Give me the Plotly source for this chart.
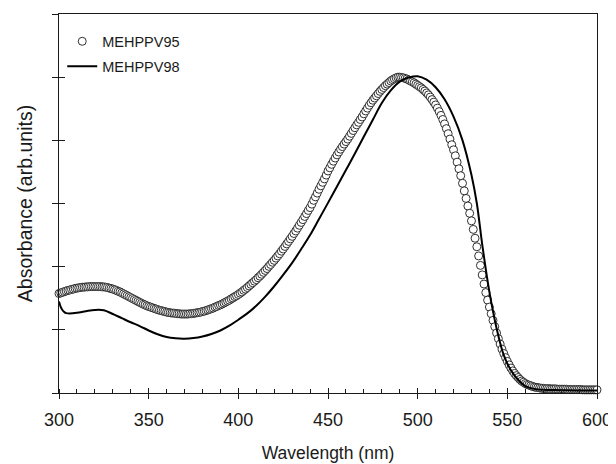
import plotly.graph_objects as go

# MEHPPV95: one reading per nm, 300..600 nm (open circles)
wl_95 = list(range(300, 601))
abs_95 = [
    .315, .317, .319, .321, .323, .325, .326, .328, .329, .331,
    .332, .333, .334, .335, .335, .336, .336, .337, .337, .337,
    .337, .337, .337, .337, .336, .336, .335, .334, .332, .331,
    .329, .327, .325, .322, .320, .317, .314, .311, .308, .305,
    .302, .299, .296, .293, .290, .287, .284, .281, .279, .276,
    .274, .272, .270, .268, .266, .264, .262, .261, .259, .258,
    .256, .255, .254, .253, .253, .252, .251, .251, .250, .250,
    .250, .250, .250, .251, .251, .252, .253, .254, .255, .256,
    .258, .259, .261, .263, .265, .267, .269, .272, .274, .277,
    .279, .282, .285, .288, .291, .294, .298, .301, .305, .308,
    .312, .316, .320, .325, .329, .334, .339, .344, .349, .354,
    .359, .365, .370, .376, .382, .388, .394, .401, .407, .414,
    .420, .427, .434, .441, .449, .456, .464, .472, .480, .488,
    .496, .505, .513, .522, .531, .540, .549, .559, .568, .578,
    .587, .598, .610, .621, .633, .645, .656, .667, .678, .690,
    .703, .713, .724, .734, .744, .754, .763, .772, .780, .788,
    .796, .804, .813, .822, .831, .840, .849, .857, .866, .874,
    .884, .893, .902, .911, .919, .927, .934, .941, .948, .955,
    .961, .967, .973, .978, .983, .988, .992, .995, .998, 1.00,
    1.00, .999, .998, .996, .994, .991, .988, .985, .982, .978,
    .974, .970, .966, .961, .956, .950, .944, .937, .929, .921,
    .912, .902, .891, .879, .866, .852, .837, .821, .804, .786,
    .770, .751, .731, .710, .688, .664, .640, .616, .592, .569,
    .545, .518, .490, .463, .434, .404, .374, .345, .318, .294,
    .272, .251, .230, .210, .190, .172, .155, .139, .125, .112,
    .100, .089, .079, .070, .062, .055, .049, .043, .038, .034,
    .030, .027, .025, .023, .021, .019, .018, .017, .016, .015,
    .015, .014, .014, .014, .013, .013, .013, .013, .012, .012,
    .012, .012, .012, .012, .011, .011, .011, .011, .011, .011,
    .011, .011, .010, .010, .010, .010, .010, .010, .010, .010,
    .010,
]

# MEHPPV98 (solid line)
wl_98 = [300, 301, 302, 303, 304, 306, 310, 315, 320, 325, 330, 335, 340,
         345, 350, 355, 360, 365, 370, 375, 380, 385, 390, 395, 400, 405,
         410, 415, 420, 425, 430, 435, 440, 445, 450, 455, 460, 465, 470,
         475, 480, 485, 490, 495, 500, 505, 510, 515, 520, 525, 530, 533,
         536, 540, 544, 548, 552, 556, 560, 565, 570, 580, 590, 600]
abs_98 = [.290, .272, .262, .256, .253, .252, .254, .259, .263, .262, .250,
          .237, .224, .212, .198, .186, .177, .173, .172, .174, .179, .187,
          .198, .213, .232, .252, .276, .305, .338, .374, .412, .455, .500,
          .551, .602, .654, .706, .758, .812, .865, .918, .958, .986, .999,
          1.003, .992, .968, .930, .875, .800, .690, .600, .470, .320, .205,
          .120, .072, .042, .022, .013, .010, .009, .008, .008]

x_ticks = [300, 350, 400, 450, 500, 550, 600]

FONT = "Liberation Sans, Arial, sans-serif"
INK = "#1a1a1a"

fig = go.Figure()
fig.add_trace(go.Scatter(
    x=wl_95, y=abs_95, mode="markers", name="MEHPPV95", cliponaxis=False,
    legendgroup="a",
    marker=dict(symbol="circle", size=8, color="white",
                line=dict(color=INK, width=0.9)),
))
fig.add_trace(go.Scatter(
    x=wl_98, y=abs_98, mode="lines", name="MEHPPV98", line_shape="spline",
    legendgroup="b",
    line=dict(color="black", width=2),
))
# invisible helper so the second (inside-tick) axes are drawn
fig.add_trace(go.Scatter(x=[300], y=[0], xaxis="x2", yaxis="y2",
                         mode="markers", marker=dict(opacity=0),
                         showlegend=False, hoverinfo="skip"))

axis_common = dict(showline=True, linecolor=INK, linewidth=1.2, mirror=True,
                   showgrid=False, zeroline=False, tickcolor=INK, tickwidth=1,
                   automargin=False)

# page body adds ~8px offset, so the figure is sized/margined to compensate
fig.update_layout(
    width=608, height=456,
    margin=dict(l=51, r=19, t=6, b=71),
    paper_bgcolor="white", plot_bgcolor="white",
    font=dict(family=FONT, color=INK),
    showlegend=True,
    legend=dict(x=0.006, y=0.97, xanchor="left", yanchor="top",
                bgcolor="rgba(0,0,0,0)", font=dict(size=14.5, family=FONT),
                itemwidth=30, tracegroupgap=3, traceorder="grouped"),
    xaxis=dict(range=[300, 600], tickvals=x_ticks, ticks="outside", ticklen=5,
               tickfont=dict(size=18), ticklabelstandoff=5,
               minor=dict(ticks="inside", dtick=10, ticklen=4, tickcolor=INK),
               title=dict(text="Wavelength (nm)", font=dict(size=17.5),
                          standoff=18),
               **axis_common),
    xaxis2=dict(range=[300, 600], overlaying="x", tickvals=x_ticks,
                ticks="inside", ticklen=5, showticklabels=False,
                showline=False, showgrid=False, zeroline=False,
                tickcolor=INK),
    yaxis=dict(range=[0, 1.2], dtick=0.2, ticks="outside", ticklen=6,
               showticklabels=False,
               title=dict(text="Absorbance (arb.units)", font=dict(size=19.5),
                          standoff=14),
               **axis_common),
    yaxis2=dict(range=[0, 1.2], overlaying="y", dtick=0.2, ticks="inside",
                ticklen=6, showticklabels=False, showline=False,
                showgrid=False, zeroline=False, tickcolor=INK),
)

fig.write_html("out.html")
